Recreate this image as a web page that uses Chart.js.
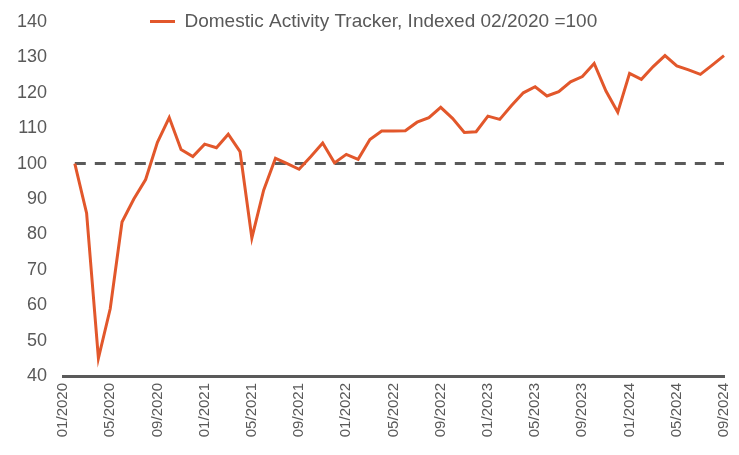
<!DOCTYPE html>
<html>
<head>
<meta charset="utf-8">
<script src="https://cdn.jsdelivr.net/npm/chart.js@4.4.1/dist/chart.umd.min.js"></script>
<style>
  html, body { margin: 0; padding: 0; background: #ffffff; }
  #wrap { width: 739px; height: 455px; }
</style>
</head>
<body>
<div id="wrap"><canvas id="tracker-chart" width="739" height="455"></canvas></div>
<script>
const MONTHS = [
  '01/2020', '02/2020', '03/2020', '04/2020', '05/2020', '06/2020', '07/2020', '08/2020', '09/2020', '10/2020', '11/2020', '12/2020',
  '01/2021', '02/2021', '03/2021', '04/2021', '05/2021', '06/2021', '07/2021', '08/2021', '09/2021', '10/2021', '11/2021', '12/2021',
  '01/2022', '02/2022', '03/2022', '04/2022', '05/2022', '06/2022', '07/2022', '08/2022', '09/2022', '10/2022', '11/2022', '12/2022',
  '01/2023', '02/2023', '03/2023', '04/2023', '05/2023', '06/2023', '07/2023', '08/2023', '09/2023', '10/2023', '11/2023', '12/2023',
  '01/2024', '02/2024', '03/2024', '04/2024', '05/2024', '06/2024', '07/2024', '08/2024', '09/2024'
];

// index values (no value for 01/2020)
const TRACKER = [
  null, 100, 86, 45, 59, 83.5, 90, 95.5, 106, 113, 104, 102,
  105.5, 104.5, 108.3, 103.4, 79, 92.5, 101.5, 100, 98.4, 102, 105.8, 100.2,
  102.6, 101.2, 106.8, 109.2, 109.2, 109.3, 111.7, 113, 115.9, 112.8, 108.8, 109,
  113.4, 112.5, 116.4, 120, 121.7, 119.1, 120.3, 123.1, 124.6, 128.3, 120.5, 114.5,
  125.5, 123.8, 127.4, 130.5, 127.6, 126.5, 125.2, 127.8, 130.5
];

const TICK_LABELS = ['01/2020', '05/2020', '09/2020', '01/2021', '05/2021', '09/2021', '01/2022',
  '05/2022', '09/2022', '01/2023', '05/2023', '09/2023', '01/2024', '05/2024', '09/2024'];

const BASELINE = 100;
const LEGEND_LABEL = 'Domestic Activity Tracker, Indexed 02/2020 =100';

const ORANGE = '#e2572b';
const GREY = '#595959';

Chart.defaults.font.family = "'Liberation Sans', Arial, sans-serif";

// legend sits above the plot, left of centre
const legendPlace = {
  id: 'legendPlace',
  afterLayout(chart) {
    const lg = chart.legend;
    const h = lg.height;
    lg.left = 140;
    lg.right = 739;
    lg.top = 2;
    lg.bottom = 2 + h;
  }
};

const ctx = document.getElementById('tracker-chart').getContext('2d');

new Chart(ctx, {
  type: 'line',
  data: {
    labels: MONTHS,
    datasets: [
      {
        label: LEGEND_LABEL,
        data: TRACKER,
        borderColor: ORANGE,
        backgroundColor: ORANGE,
        borderWidth: 3,
        pointRadius: 0,
        tension: 0,
        order: 0
      },
      {
        label: 'baseline',
        data: MONTHS.map((m, i) => (i === 0 ? null : BASELINE)),
        borderColor: '#5a5a5a',
        borderWidth: 3,
        borderDash: [11, 9],
        pointRadius: 0,
        order: 1
      }
    ]
  },
  options: {
    responsive: false,
    animation: false,
    layout: { padding: { top: 22, right: 15, left: 0, bottom: 0 } },
    plugins: {
      tooltip: { enabled: false },
      legend: {
        position: 'chartArea',
        align: 'start',
        labels: {
          color: GREY,
          font: { size: 19 },
          boxWidth: 25,
          boxHeight: 3,
          padding: 10,
          generateLabels: () => [{
            text: LEGEND_LABEL,
            fillStyle: ORANGE,
            strokeStyle: ORANGE,
            lineWidth: 0,
            fontColor: GREY,
            datasetIndex: 0
          }]
        }
      }
    },
    scales: {
      x: {
        type: 'category',
        offset: false,
        afterFit: (s) => { s.height = 79; s.paddingLeft = 0; s.paddingRight = 0; },
        grid: { display: false, drawTicks: false },
        border: { display: true, color: '#5a5a5a', width: 3 },
        ticks: {
          autoSkip: false,
          minRotation: 90,
          maxRotation: 90,
          padding: 7,
          color: GREY,
          font: { size: 15 },
          callback: function (value) {
            const lab = this.getLabelForValue(value);
            return TICK_LABELS.includes(lab) ? lab : '';
          }
        }
      },
      y: {
        min: 40,
        max: 140,
        afterFit: (s) => { s.width = 63; s.paddingTop = 0; s.paddingBottom = 0; },
        grid: { display: false, drawTicks: false },
        border: { display: false },
        ticks: {
          stepSize: 10,
          padding: 16,
          color: GREY,
          font: { size: 18 }
        }
      }
    }
  },
  plugins: [legendPlace]
});
</script>
</body>
</html>
